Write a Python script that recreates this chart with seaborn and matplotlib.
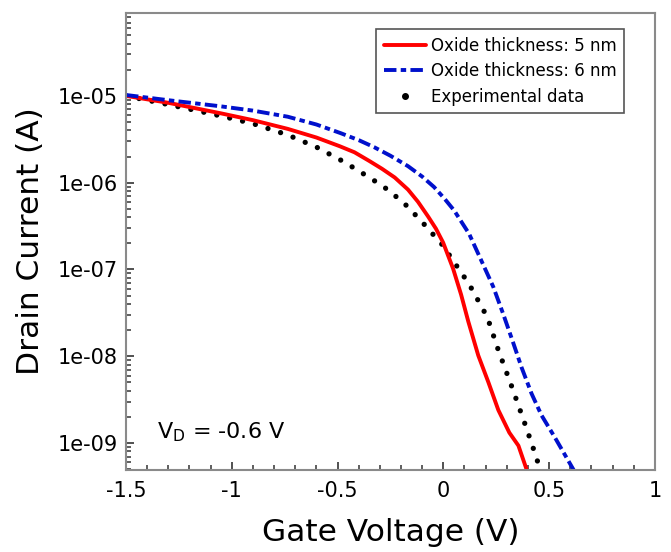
import numpy as np
import pandas as pd
import matplotlib
matplotlib.use("Agg")
import matplotlib.pyplot as plt
from matplotlib.lines import Line2D
from matplotlib.ticker import FixedLocator, FuncFormatter, LogLocator, NullFormatter, MultipleLocator
import seaborn as sns

# Simulated curve, oxide thickness 5 nm (gate voltage in V, log10 of drain current in A)
v_5nm = [-1.5, -1.3, -1.054, -0.9, -0.736, -0.6, -0.49, -0.42, -0.35, -0.29, -0.23,
         -0.167, -0.12, -0.072, -0.035, -0.001, 0.046, 0.084, 0.118, 0.165, 0.213,
         0.26, 0.312, 0.355, 0.40]
logi_5nm = [-5.0, -5.08, -5.20, -5.28, -5.38, -5.48, -5.58, -5.65, -5.75, -5.84, -5.94,
            -6.08, -6.22, -6.39, -6.53, -6.69, -6.99, -7.29, -7.60, -7.99, -8.30,
            -8.62, -8.88, -9.03, -9.35]

# Simulated curve, oxide thickness 6 nm
v_6nm = [-1.5, -1.3, -1.054, -0.9, -0.736, -0.6, -0.485, -0.4, -0.328, -0.25, -0.167,
         -0.1, -0.044, 0.004, 0.051, 0.122, 0.18, 0.236, 0.284, 0.331, 0.37, 0.417,
         0.464, 0.526, 0.616]
logi_6nm = [-4.99, -5.05, -5.12, -5.17, -5.24, -5.33, -5.43, -5.51, -5.59, -5.69, -5.81,
            -5.93, -6.05, -6.18, -6.32, -6.59, -6.90, -7.20, -7.52, -7.85, -8.13, -8.43,
            -8.68, -8.93, -9.31]

# Experimental data
v_exp = [-1.5, -1.3, -1.054, -0.9, -0.736, -0.6, -0.47, -0.343, -0.257, -0.176, -0.105,
         -0.058, 0.004, 0.027, 0.122, 0.208, 0.26, 0.322, 0.383, 0.421, 0.464]
logi_exp = [-5.0, -5.10, -5.23, -5.32, -5.45, -5.59, -5.76, -5.95, -6.09, -6.26, -6.44,
            -6.57, -6.74, -6.83, -7.17, -7.55, -7.93, -8.34, -8.76, -9.03, -9.35]

x_ticks = [-1.5, -1, -0.5, 0, 0.5, 1]
y_ticks = [1e-9, 1e-8, 1e-7, 1e-6, 1e-5]
labels = ["Oxide thickness: 5 nm", "Oxide thickness: 6 nm", "Experimental data"]

df_5 = pd.DataFrame({"V": v_5nm, "I": 10 ** np.array(logi_5nm)})
df_6 = pd.DataFrame({"V": v_6nm, "I": 10 ** np.array(logi_6nm)})
df_exp = pd.DataFrame({"V": v_exp, "I": 10 ** np.array(logi_exp)})

sns.set_style("ticks", {"axes.edgecolor": "#8a8a8a", "text.color": "black",
                        "axes.labelcolor": "black", "xtick.color": "#333333",
                        "ytick.color": "#333333"})
plt.rcParams["font.family"] = ["DejaVu Sans"]

fig = plt.figure(figsize=(6.71, 5.52), dpi=100)
ax = fig.add_axes([0.1878, 0.1486, 0.7882, 0.8278])

# experimental data as a round-dotted trace
sns.lineplot(data=df_exp, x="V", y="I", ax=ax, color="black", linewidth=3.8,
             sort=False, estimator=None)
dots = ax.lines[-1]
dots.set_linestyle((0, (0.01, 2.5)))
dots.set_dash_capstyle("round")

sns.lineplot(data=df_5, x="V", y="I", ax=ax, color="#ff0000", linewidth=2.8,
             sort=False, estimator=None)

sns.lineplot(data=df_6, x="V", y="I", ax=ax, color="#0010cc", linewidth=2.8,
             sort=False, estimator=None)
ax.lines[-1].set_linestyle((0, (3.2, 1.1, 1.4, 1.1)))

ax.set_yscale("log")
ax.set_xlim(-1.5, 1)
ax.set_ylim(4.9e-10, 9e-5)

ax.xaxis.set_major_locator(FixedLocator(x_ticks))
ax.xaxis.set_minor_locator(MultipleLocator(0.1))
ax.xaxis.set_major_formatter(FuncFormatter(lambda v, p: f"{v:g}"))
ax.yaxis.set_major_locator(FixedLocator(y_ticks))
ax.yaxis.set_minor_locator(LogLocator(base=10, subs=np.arange(2, 10)))
ax.yaxis.set_major_formatter(FuncFormatter(lambda v, p: f"{v:.0e}"))
ax.yaxis.set_minor_formatter(NullFormatter())

ax.tick_params(which="both", direction="in", bottom=True, left=True, top=False,
               right=False, labelcolor="black", labelsize=15, pad=6)
ax.tick_params(which="major", length=6, width=1.2)
ax.tick_params(which="minor", length=3.5, width=1.1)
ax.tick_params(axis="x", pad=8)

for s in ax.spines.values():
    s.set_color("#8a8a8a")
    s.set_linewidth(1.5)
    s.set_visible(True)

ax.set_xlabel("Gate Voltage (V)", fontsize=22.5, labelpad=12)
ax.set_ylabel("Drain Current (A)", fontsize=22.5, labelpad=9)

ax.text(0.059, 0.07, r"V$_\mathregular{D}$ = -0.6 V", transform=ax.transAxes,
        fontsize=16, va="baseline", ha="left")

handles = [
    Line2D([], [], color="#ff0000", linewidth=2.8),
    Line2D([], [], color="#0010cc", linewidth=2.8, linestyle=(0, (3.2, 1.1, 1.4, 1.1))),
    Line2D([], [], color="black", linestyle="none", marker="o", markersize=4),
]
leg = ax.legend(handles, labels, loc="upper right", bbox_to_anchor=(0.9414, 0.965),
                fontsize=12, frameon=True, fancybox=False, framealpha=1,
                handlelength=2.5, handletextpad=0.3, labelspacing=0.45,
                borderpad=0.45, borderaxespad=0)
leg.get_frame().set_edgecolor("#555555")
leg.get_frame().set_linewidth(1.2)

fig.savefig("out.png", dpi=100)
